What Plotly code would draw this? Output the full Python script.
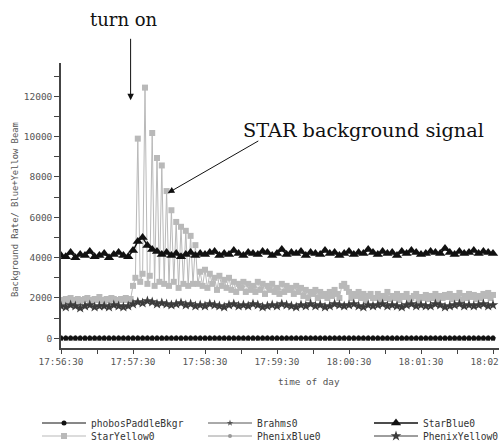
import pandas as pd
import plotly.graph_objects as go

# ---------------- data ----------------
start_time = "2003-03-01 17:56:30"
n_coarse = 91      # samples every 4 s
n_fine = 181       # StarYellow0 sampled every 2 s

star_yellow = [
    1900, 1850, 1950, 1900, 2000, 1850, 1900, 1950, 1800, 1900,
    1950, 2000, 1900, 1850, 1950, 1900, 2050, 1900, 1850, 1950,
    1900, 2000, 1950, 1850, 1900, 1950, 1900, 2000, 1900, 1950,
    2600, 3000, 9900, 2800, 3200, 12430, 2700, 3100, 10180, 2600,
    8940, 2800, 8570, 2700, 7300, 2600, 6350, 2800, 5770, 2500,
    5530, 2700, 5330, 2600, 5080, 2700, 4620,
    2700, 3300, 2600, 3400, 2500, 3200, 2700, 3000, 2400, 3100,
    2600, 2900, 2500, 3000,
    2400, 2800, 2300, 2700, 2500, 2800, 2300, 2700, 2400, 2600,
    2300, 2800, 2400, 2700, 2200, 2600, 2400, 2700, 2300, 2500,
    2200, 2700, 2300, 2600, 2400, 2500, 2200, 2600, 2300, 2500,
    2100, 2400, 2000, 2300, 2200, 2400, 2000, 2300, 2100, 2200,
    2000, 2300, 2100, 2400, 2200, 2000, 2600, 2700, 2500, 2300,
    2000, 2200, 2100, 2300, 2000, 2200, 1900, 2100, 2200, 2000,
    2000, 2200, 1900, 2100, 2000, 2300, 1950, 2100, 2000, 2200,
    1900, 2100, 2050, 2200, 1950, 2000, 2100, 2200, 1900, 2050,
    2000, 2150, 1950, 2100, 2000, 2200, 1900, 2100, 2000, 2150,
    2050, 2200, 1950, 2100, 2000, 2250, 1900, 2100, 2000, 2200,
    2050, 2150, 1950, 2100, 2000, 2200, 2100, 2250, 2000, 2150,
]

star_blue = [
    4100, 4050, 4250, 4000, 4150, 4100, 4300, 4050, 4100, 4200,
    4000, 4150, 4250, 4100, 4050,
    4350, 4800, 5000, 4600, 4400, 4300, 4150, 4250, 4100, 4200,
    4050, 4150, 4250, 4100,
    4200, 4150, 4250, 4300, 4100, 4200, 4150, 4350, 4200, 4100,
    4250, 4200, 4150, 4300, 4250, 4100, 4200, 4400, 4150, 4250,
    4200, 4300, 4100, 4250, 4200, 4150, 4350, 4200, 4250, 4100,
    4200, 4300, 4150, 4250, 4200, 4400, 4250, 4150, 4300, 4200,
    4250, 4100, 4300, 4200, 4350, 4250, 4150, 4200, 4300, 4250,
    4200, 4450, 4250, 4150, 4300, 4200, 4250, 4350, 4200, 4300,
    4250, 4200,
]

phenix_yellow = [
    1600, 1550, 1650, 1600, 1500, 1600, 1650, 1550, 1600, 1600,
    1550, 1650, 1600, 1550, 1600,
    1700, 1800, 1750, 1850, 1800, 1700, 1750, 1700, 1650, 1700,
    1750, 1650, 1700, 1600,
    1650, 1600, 1700, 1650, 1600, 1550, 1650, 1700, 1600, 1650,
    1600, 1700, 1650, 1550, 1600, 1650, 1600, 1700, 1650, 1600,
    1550, 1650, 1600, 1700, 1600, 1650, 1550, 1600, 1700, 1650,
    1600, 1650, 1700, 1600, 1550, 1650, 1600, 1650, 1700, 1600,
    1650, 1600, 1550, 1650, 1700, 1600, 1650, 1600, 1600, 1700,
    1650, 1550, 1600, 1650, 1700, 1600, 1650, 1600, 1650, 1700,
    1600, 1650,
]

phobos_paddle = [
    0, 0, 0, 0, 0, 0, 0, 0, 0, 0, 0, 0, 0, 0, 0, 0, 0, 0, 0, 0,
    0, 0, 0, 0, 0, 0, 0, 0, 0, 0, 0, 0, 0, 0, 0, 0, 0, 0, 0, 0,
    0, 0, 0, 0, 0, 0, 0, 0, 0, 0, 0, 0, 0, 0, 0, 0, 0, 0, 0, 0,
    0, 0, 0, 0, 0, 0, 0, 0, 0, 0, 0, 0, 0, 0, 0, 0, 0, 0, 0, 0,
    0, 0, 0, 0, 0, 0, 0, 0, 0, 0, 0,
]

brahms = [
    0, 0, 0, 0, 0, 0, 0, 0, 0, 0, 0, 0, 0, 0, 0, 0, 0, 0, 0, 0,
    0, 0, 0, 0, 0, 0, 0, 0, 0, 0, 0, 0, 0, 0, 0, 0, 0, 0, 0, 0,
    0, 0, 0, 0, 0, 0, 0, 0, 0, 0, 0, 0, 0, 0, 0, 0, 0, 0, 0, 0,
    0, 0, 0, 0, 0, 0, 0, 0, 0, 0, 0, 0, 0, 0, 0, 0, 0, 0, 0, 0,
    0, 0, 0, 0, 0, 0, 0, 0, 0, 0, 0,
]

phenix_blue = [
    60, 60, 60, 60, 60, 60, 60, 60, 60, 60, 60, 60, 60, 60, 60, 60, 60, 60, 60, 60,
    60, 60, 60, 60, 60, 60, 60, 60, 60, 60, 60, 60, 60, 60, 60, 60, 60, 60, 60, 60,
    60, 60, 60, 60, 60, 60, 60, 60, 60, 60, 60, 60, 60, 60, 60, 60, 60, 60, 60, 60,
    60, 60, 60, 60, 60, 60, 60, 60, 60, 60, 60, 60, 60, 60, 60, 60, 60, 60, 60, 60,
    60, 60, 60, 60, 60, 60, 60, 60, 60, 60, 60,
]

y_tickvals = [0, 2000, 4000, 6000, 8000, 10000, 12000]

t_coarse = pd.date_range(start_time, periods=n_coarse, freq="4s")
t_fine = pd.date_range(start_time, periods=n_fine, freq="2s")

# ---------------- figure ----------------
W, H = 499, 443
L, R, T, B = 61, 0, 63, 95
PW, PH = W - L - R, H - T - B
mono = "DejaVu Sans Mono"
serif = "DejaVu Serif"


def px_x(p):
    return (p - L) / PW


def px_y(p):
    return (H - B - p) / PH


fig = go.Figure()

def add(name, x, y, color, symbol, size, legend, lw=1):
    fig.add_trace(go.Scatter(
        x=x, y=y, name=name, mode="lines+markers",
        line=dict(color=color, width=lw),
        marker=dict(symbol=symbol, size=size, color=color, line=dict(width=0)),
        legend=legend,
    ))

# legend slots: row 1 -> legend, legend2, legend3 ; row 2 -> legend4, legend5, legend6
add("StarYellow0", t_fine, star_yellow, "#b9b9b9", "square", 6, "legend4")
add("PhenixYellow0", t_coarse, phenix_yellow, "#3c3c3c", "star", 8, "legend6")
add("StarBlue0", t_coarse, star_blue, "#111111", "triangle-up", 9, "legend3", 1.5)
add("PhenixBlue0", t_coarse, phenix_blue, "#9a9a9a", "circle", 4, "legend5")
add("Brahms0", t_coarse, brahms, "#555555", "star", 5, "legend2")
add("phobosPaddleBkgr", t_coarse, phobos_paddle, "#111111", "circle", 5, "legend")

x0 = pd.Timestamp(start_time)
x1 = x0 + pd.Timedelta(seconds=365)

legend_common = dict(
    orientation="h", xref="paper", yref="paper",
    xanchor="left", yanchor="middle",
    itemwidth=44, bgcolor="rgba(0,0,0,0)", borderwidth=0,
    font=dict(family=mono, size=9.6, color="#333333"),
    itemclick=False, itemdoubleclick=False,
)
col_x = [37, 203, 369]
row_y = [423, 436]

legends = {}
for k in range(6):
    key = "legend" if k == 0 else f"legend{k + 1}"
    legends[key] = dict(legend_common, x=px_x(col_x[k % 3]), y=px_y(row_y[k // 3]))

fig.update_layout(
    width=W, height=H,
    margin=dict(l=L, r=R, t=T, b=B, autoexpand=False),
    paper_bgcolor="white", plot_bgcolor="white",
    showlegend=True,
    **legends,
    xaxis=dict(
        type="date", range=[x0, x1],
        tick0=x0, dtick=60000, tickformat="%H:%M:%S",
        ticks="outside", ticklen=4, tickcolor="#444", tickwidth=1,
        minor=dict(dtick=30000, tick0=x0, ticks="outside", ticklen=4, tickcolor="#444"),
        showgrid=False, zeroline=False,
        showline=True, linecolor="#444", linewidth=1.5,
        tickfont=dict(family=mono, size=9.3, color="#555555"),
        ticklabeloverflow="allow",
        automargin=False,
    ),
    yaxis=dict(
        range=[-480, 13650],
        tickmode="array", tickvals=y_tickvals, tickformat="d",
        ticks="outside", ticklen=5, tickcolor="#444", tickwidth=1,
        minor=dict(dtick=1000, ticks="outside", ticklen=5, tickcolor="#444"),
        showgrid=False, zeroline=False,
        showline=True, linecolor="#444", linewidth=1.5,
        tickfont=dict(family=mono, size=9.5, color="#555555"),
        automargin=False,
    ),
    annotations=[
        dict(text="Background Rate/ Blue+Yellow Beam", textangle=-90,
             xref="paper", yref="paper", x=px_x(15), y=px_y(210),
             xanchor="center", yanchor="middle", showarrow=False,
             font=dict(family=mono, size=8.8, color="#555555")),
        dict(text="time of day", xref="paper", yref="paper",
             x=px_x(309), y=px_y(381),
             xanchor="center", yanchor="middle", showarrow=False,
             font=dict(family=mono, size=9.3, color="#555555")),
        dict(text="turn on", xref="paper", yref="paper",
             x=px_x(124), y=px_y(20),
             xanchor="center", yanchor="middle", showarrow=False,
             font=dict(family=serif, size=18, color="#111111")),
        dict(text="", x=x0 + pd.Timedelta(seconds=58), y=11800,
             xref="x", yref="y", showarrow=True, arrowhead=2, arrowsize=1.3,
             arrowwidth=1, arrowcolor="#111111", ax=0, ay=-63, standoff=0),
        dict(text="STAR background signal", xref="paper", yref="paper",
             x=px_x(363), y=px_y(130),
             xanchor="center", yanchor="middle", showarrow=False,
             font=dict(family=serif, size=19.3, color="#111111")),
        dict(text="", x=x0 + pd.Timedelta(seconds=89), y=7200,
             xref="x", yref="y", showarrow=True, arrowhead=2, arrowsize=1.3,
             arrowwidth=1, arrowcolor="#111111", ax=92, ay=-53, standoff=0),
    ],
)

fig.write_html(
    "out.html",
    config={"displayModeBar": False},
    post_script="document.body.style.margin='0';",
)
